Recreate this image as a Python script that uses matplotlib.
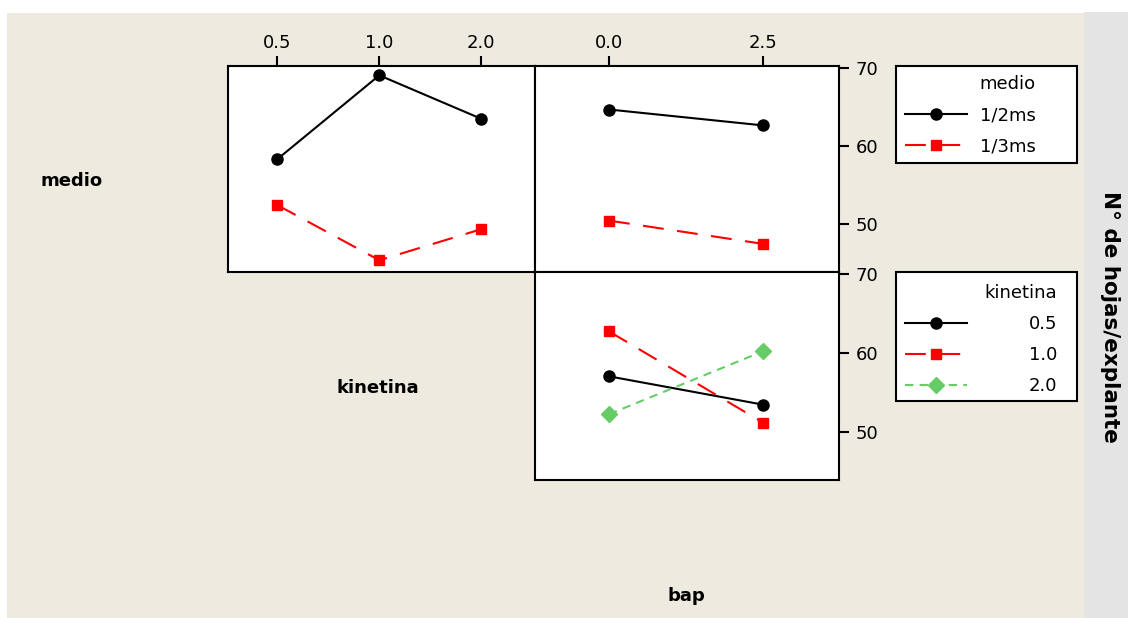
import numpy as np
import matplotlib.pyplot as plt
from matplotlib.patches import Rectangle
from matplotlib.lines import Line2D

# factor levels
kinetina_levels = ['0.5', '1.0', '2.0']
bap_levels = ['0.0', '2.5']
medio_levels = ['1/2ms', '1/3ms']

# mean N° de hojas/explante
medio_half_by_kin = [58.3, 69.1, 63.5]
medio_third_by_kin = [52.4, 45.3, 49.3]
medio_half_by_bap = [64.7, 62.65]
medio_third_by_bap = [50.4, 47.4]
kin05_by_bap = [57.0, 53.4]
kin10_by_bap = [62.7, 51.1]
kin20_by_bap = [52.2, 60.2]

W, H = 1128, 618
fig = plt.figure(figsize=(W/100, H/100), dpi=100)
fig.patch.set_facecolor('white')

def fx(px): return px / W
def fy(py): return 1 - py / H

# background areas
fig.patches.append(Rectangle((fx(7), 0), fx(1084) - fx(7), fy(13), transform=fig.transFigure,
                             facecolor='#efeae0', edgecolor='none', zorder=-10))
fig.patches.append(Rectangle((fx(1084), 0), fx(W) - fx(1084), fy(12), transform=fig.transFigure,
                             facecolor='#e4e4e4', edgecolor='none', zorder=-10))

black = dict(color='black', ls='-', marker='o', ms=8, lw=1.5)
red = dict(color='#ff0000', ls=(0, (10, 6.5)), marker='s', ms=7.5, lw=1.5)
green = dict(color='#66cc66', ls=(0, (4, 3)), marker='D', ms=8, lw=1.5)

ylim = (43.85, 70.3)

def panel(rect):
    ax = fig.add_axes(rect)
    ax.set_facecolor('white')
    for s in ax.spines.values():
        s.set_linewidth(1.5)
    ax.set_ylim(ylim)
    ax.tick_params(axis='both', labelsize=13, length=7, width=1.5, direction='out')
    ax.tick_params(axis='x', pad=3)
    ax.tick_params(axis='y', pad=5)
    return ax

top_y0, top_y1 = 66, 271.5
bot_y1 = 480

ax1 = panel([fx(228), fy(top_y1), fx(535) - fx(228), fy(top_y0) - fy(top_y1)])
x = np.arange(len(kinetina_levels))
ax1.plot(x, medio_half_by_kin, **black)
ax1.plot(x, medio_third_by_kin, **red)
ax1.set_xlim(-0.483, 2.526)
ax1.set_xticks(x)
ax1.set_xticklabels(kinetina_levels)
ax1.xaxis.tick_top()
ax1.set_yticks([])

ax2 = panel([fx(535), fy(top_y1), fx(839) - fx(535), fy(top_y0) - fy(top_y1)])
xb = np.arange(len(bap_levels))
ax2.plot(xb, medio_half_by_bap, **black)
ax2.plot(xb, medio_third_by_bap, **red)
ax2.set_xlim(-0.48, 1.49)
ax2.set_xticks(xb)
ax2.set_xticklabels(bap_levels)
ax2.xaxis.tick_top()
ax2.yaxis.tick_right()
ax2.set_yticks([50, 60, 70])

ax3 = panel([fx(535), fy(bot_y1), fx(839) - fx(535), fy(top_y1) - fy(bot_y1)])
ax3.plot(xb, kin05_by_bap, **black)
ax3.plot(xb, kin10_by_bap, **red)
ax3.plot(xb, kin20_by_bap, **green)
ax3.set_xlim(-0.48, 1.49)
ax3.set_xticks([])
ax3.yaxis.tick_right()
ax3.set_yticks([50, 60, 70])

# row / column labels
fig.text(fx(72), fy(181), 'medio', fontsize=13, fontweight='bold', ha='center', va='center')
fig.text(fx(378), fy(388), 'kinetina', fontsize=13, fontweight='bold', ha='center', va='center')
fig.text(fx(686), fy(596), 'bap', fontsize=13, fontweight='bold', ha='center', va='center')
fig.text(fx(1110), fy(317), 'N° de hojas/explante', fontsize=15.5, fontweight='bold',
         rotation=-90, ha='center', va='center')

# legends
def legend_box(x0, y0, x1, y1):
    fig.patches.append(Rectangle((fx(x0), fy(y1)), fx(x1) - fx(x0), fy(y0) - fy(y1),
                                 transform=fig.transFigure, facecolor='white',
                                 edgecolor='black', lw=1.5, zorder=1))

legend_box(896, 66, 1077, 163)
legend_box(896, 272, 1077, 401)

h_medio = [Line2D([], [], **black), Line2D([], [], **red)]
leg1 = fig.legend(h_medio, medio_levels, title='medio', loc='upper left',
                  bbox_to_anchor=(fx(905), fy(75)), frameon=False, alignment='right',
                  fontsize=13, title_fontsize=13, handlelength=3.43, handletextpad=0.72,
                  labelspacing=0.74, borderpad=0, borderaxespad=0)
leg1.set_zorder(5)

h_kin = [Line2D([], [], **black), Line2D([], [], **red), Line2D([], [], **green)]
leg2 = fig.legend(h_kin, kinetina_levels, title='kinetina', loc='upper left',
                  bbox_to_anchor=(fx(905), fy(284)), frameon=False, alignment='right',
                  fontsize=13, title_fontsize=13, handlelength=3.43, handletextpad=3.43,
                  labelspacing=0.72, borderpad=0, borderaxespad=0)
leg2.set_zorder(5)

fig.savefig('out.png', dpi=100, facecolor=fig.get_facecolor())
